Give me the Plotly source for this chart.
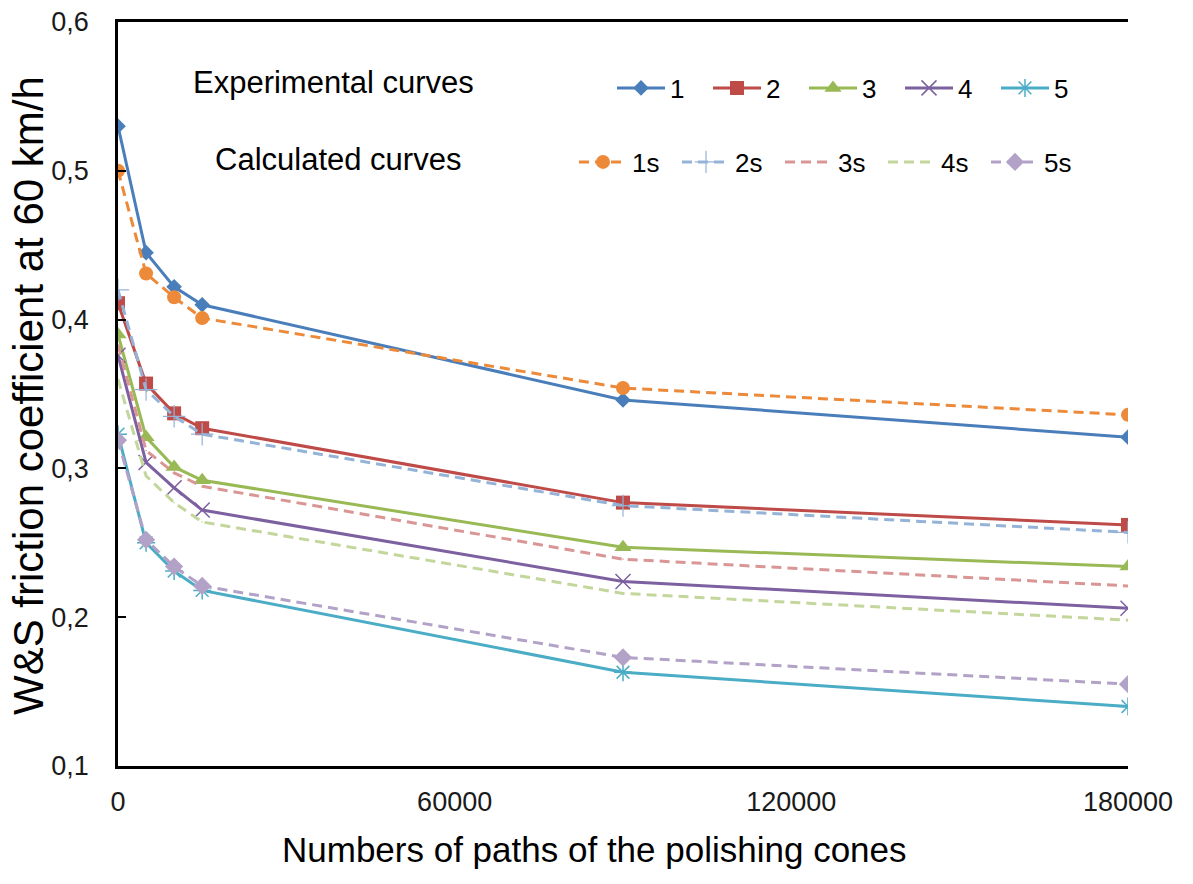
import plotly.graph_objects as go

# ---- data ----
paths = [0, 5000, 10000, 15000, 90000, 180000]

exp_names = ["1", "2", "3", "4", "5"]
exp_values = [
    [0.530, 0.445, 0.422, 0.410, 0.346, 0.321],
    [0.411, 0.357, 0.337, 0.327, 0.277, 0.262],
    [0.390, 0.321, 0.301, 0.292, 0.247, 0.234],
    [0.376, 0.304, 0.287, 0.272, 0.224, 0.206],
    [0.323, 0.250, 0.231, 0.218, 0.163, 0.140],
]

calc_names = ["1s", "2s", "3s", "4s", "5s"]
calc_values = [
    [0.500, 0.431, 0.415, 0.401, 0.354, 0.336],
    [0.420, 0.353, 0.335, 0.323, 0.275, 0.257],
    [0.383, 0.312, 0.297, 0.288, 0.239, 0.221],
    [0.360, 0.295, 0.277, 0.264, 0.216, 0.198],
    [0.319, 0.252, 0.234, 0.221, 0.173, 0.155],
]

x_ticks = [0, 60000, 120000, 180000]
x_tick_labels = ["0", "60000", "120000", "180000"]
y_ticks = [0.1, 0.2, 0.3, 0.4, 0.5, 0.6]
y_tick_labels = ["0,1", "0,2", "0,3", "0,4", "0,5", "0,6"]

x_title = "Numbers of paths of the polishing cones"
y_title = "W&S friction coefficient at 60 km/h"

# ---- styles ----
exp_colors = ["#4A7EBB", "#BE4B48", "#98B954", "#7D60A0", "#4BACC6"]
exp_symbols = ["diamond", "square", "triangle-up", "x-thin-open", "asterisk-open"]
exp_sizes = [12, 14, 15, 15, 15]

calc_colors = ["#EC8A3A", "#95B3D7", "#D99694", "#C3D69B", "#B3A2C7"]
calc_symbols = ["circle", "cross-thin-open", "line-ew-open", "line-ew-open", "diamond"]
calc_sizes = [14, 16, 1, 1, 14]

FONT = "Liberation Sans, Arial, sans-serif"

W, H = 1193, 884
L, R, T, B = 118, 65, 22, 118
pw = W - L - R
ph = H - T - B


def px_x(px):
    return (px - L) / pw


def px_y(py):
    return (H - B - py) / ph


fig = go.Figure()

for name, vals, col, sym, sz in zip(exp_names, exp_values, exp_colors, exp_symbols, exp_sizes):
    thin = sym.endswith("-open")
    fig.add_trace(go.Scatter(
        x=paths, y=vals, name=name, mode="lines+markers",
        line=dict(color=col, width=3),
        marker=dict(symbol=sym, size=sz, color=col,
                    line=dict(color=col, width=1.5 if thin else 0)),
        legend="legend",
    ))

for name, vals, col, sym, sz in zip(calc_names, calc_values, calc_colors, calc_symbols, calc_sizes):
    thin = sym.endswith("-open")
    fig.add_trace(go.Scatter(
        x=paths, y=vals, name=name, mode="lines+markers",
        line=dict(color=col, width=3, dash="10px,6px"),
        marker=dict(symbol=sym, size=sz, color=col,
                    line=dict(color=col, width=1.2 if thin else 0)),
        legend="legend2",
    ))

axis_common = dict(
    showgrid=False, zeroline=False, showline=True, linecolor="black", linewidth=2.5,
    tickfont=dict(family=FONT, size=27, color="#1a1a1a"), automargin=False,
)

fig.update_layout(
    width=W, height=H,
    paper_bgcolor="white", plot_bgcolor="white",
    margin=dict(l=L, r=R, t=T, b=B, autoexpand=False),
    font=dict(family=FONT, color="black"),
    xaxis=dict(
        **axis_common, range=[0, 180000], tickmode="array",
        tickvals=x_ticks, ticktext=x_tick_labels, ticks="", mirror=True,
        ticklabelstandoff=10,
    ),
    yaxis=dict(
        **axis_common, range=[0.1, 0.6], tickmode="array",
        tickvals=y_ticks, ticktext=y_tick_labels, ticks="inside", ticklen=8,
        tickwidth=2, tickcolor="black", ticklabelstandoff=21,
    ),
    yaxis2=dict(
        **axis_common, range=[0.1, 0.6], tickmode="array",
        tickvals=y_ticks, ticktext=y_tick_labels, ticks="inside", ticklen=8,
        tickwidth=2, tickcolor="black", overlaying="y", side="right",
        ticklabelstandoff=22,
    ),
    legend=dict(
        orientation="h", x=px_x(612), y=px_y(88), xanchor="left", yanchor="middle",
        itemwidth=48, entrywidth=33, bgcolor="rgba(0,0,0,0)",
        font=dict(family=FONT, size=26, color="black"),
    ),
    legend2=dict(
        orientation="h", x=px_x(574), y=px_y(162), xanchor="left", yanchor="middle",
        itemwidth=48, entrywidth=40, bgcolor="rgba(0,0,0,0)",
        font=dict(family=FONT, size=26, color="black"),
    ),
    annotations=[
        dict(text="Experimental curves", x=px_x(333), y=px_y(82),
             xref="paper", yref="paper", showarrow=False, xanchor="center", yanchor="middle",
             font=dict(family=FONT, size=31, color="black")),
        dict(text="Calculated curves", x=px_x(338), y=px_y(160),
             xref="paper", yref="paper", showarrow=False, xanchor="center", yanchor="middle",
             font=dict(family=FONT, size=31, color="black")),
        dict(text=x_title, x=px_x(594), y=px_y(850),
             xref="paper", yref="paper", showarrow=False, xanchor="center", yanchor="middle",
             font=dict(family=FONT, size=35, color="black")),
        dict(text=y_title, x=px_x(28), y=px_y(396), textangle=-90,
             xref="paper", yref="paper", showarrow=False, xanchor="center", yanchor="middle",
             font=dict(family=FONT, size=42, color="black")),
    ],
)

fig.write_html("out.html", config={"displayModeBar": False},
               post_script="document.body.style.margin='0';")
